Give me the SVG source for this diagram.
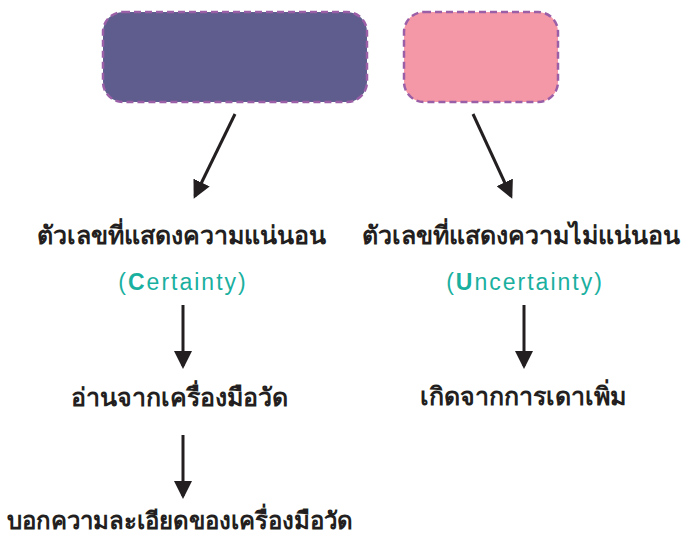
<svg xmlns="http://www.w3.org/2000/svg" width="684" height="542" viewBox="0 0 684 542">
<style>
.box{stroke:#9b5fa8;stroke-width:2.5;stroke-dasharray:7 4}
.th{font-family:"Noto Sans","DejaVu Sans",sans-serif;font-size:25px;font-weight:bold;fill:#231f20;text-anchor:middle}
.en{font-family:"Liberation Sans",sans-serif;font-size:23px;letter-spacing:2px;fill:#1ab0a0;text-anchor:middle}
.cap{font-weight:bold}
.arr{stroke:#231f20;stroke-width:3;fill:none;marker-end:url(#ah)}
</style>
<defs>
<marker id="ah" markerWidth="6" markerHeight="6" refX="5" refY="3" orient="auto" markerUnits="strokeWidth">
<path d="M0,0 L6,3 L0,6 Z" fill="#231f20"/>
</marker>
</defs>
<rect width="684" height="542" fill="#ffffff"/>
<g id="box-certain"><rect class="box" x="103" y="12" width="264" height="90" rx="20" fill="#5e5d8d"/></g>
<g id="box-uncertain"><rect class="box" x="404" y="12" width="154" height="90" rx="20" fill="#f497a6"/></g>
<g id="connectors">
<line class="arr" x1="235" y1="114" x2="195" y2="196"/>
<line class="arr" x1="473" y1="114" x2="511" y2="196"/>
<line class="arr" x1="183" y1="305" x2="183" y2="366"/>
<line class="arr" x1="524" y1="305" x2="524" y2="366"/>
<line class="arr" x1="183" y1="435" x2="183" y2="496"/>
</g>
<g id="node-certain"><text class="th" x="181" y="244">ตัวเลขที่แสดงความแน่นอน</text>
<text class="en" x="183" y="290">(<tspan class="cap">C</tspan>ertainty)</text></g>
<g id="node-uncertain"><text class="th" x="521" y="244">ตัวเลขที่แสดงความไม่แน่นอน</text>
<text class="en" x="525" y="290">(<tspan class="cap">U</tspan>ncertainty)</text></g>
<g id="node-read"><text class="th" x="179" y="406">อ่านจากเครื่องมือวัด</text></g>
<g id="node-guess"><text class="th" x="523" y="405">เกิดจากการเดาเพิ่ม</text></g>
<g id="node-resolution"><text class="th" x="180" y="529" style="font-size:24px">บอกความละเอียดของเครื่องมือวัด</text></g>
</svg>
